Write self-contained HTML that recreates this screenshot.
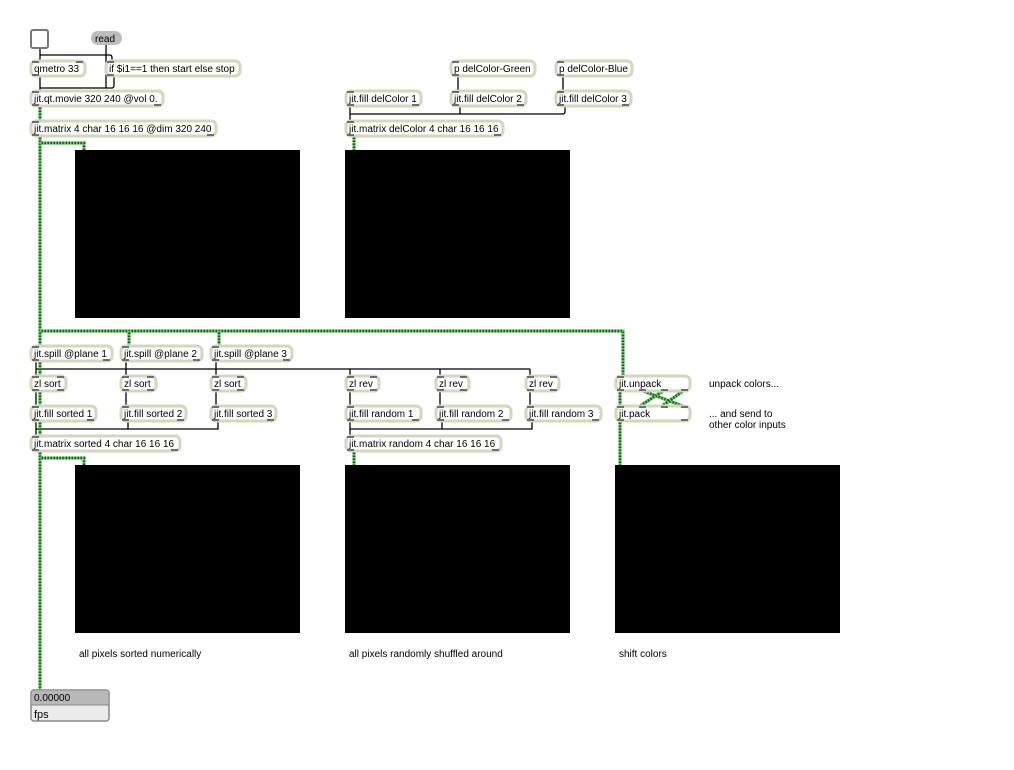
<!DOCTYPE html>
<html><head><meta charset="utf-8"><style>
html,body{margin:0;padding:0;background:#fff;}
svg{display:block;}
text{font-family:"Liberation Sans",sans-serif;font-size:10px;fill:#000;}
.b{fill:#fff;stroke:#d2d8bc;stroke-width:3;}
.io{fill:#6e6e6e;}
.c{stroke:#000;stroke-width:1.3;fill:none;}
.g{stroke:#1d5e1d;stroke-width:3;fill:none;}
.g2{stroke:#5fd05f;stroke-width:3;fill:none;stroke-dasharray:1.5 1.5;}
</style></head><body>
<svg width="1014" height="770" viewBox="0 0 1014 770">
<g class="c">
<path d="M40 48 V61"/>
<path d="M40 55 H110 Q112 55 112 58 V61"/>
<path d="M106 45 V88"/>
<path d="M40 76 V91"/>
<path d="M40 88 H112 Q114 88 114 85 V76"/>
<path d="M458 76 V91"/><path d="M563 76 V91"/>
<path d="M350 106 V121"/>
<path d="M350 114 H563 Q565 114 565 111 V106"/>
<path d="M460 106 V114"/>
<path d="M36 361 V376"/><path d="M126 361 V376"/><path d="M216 361 V376"/>
<path d="M36 369 H530"/>
<path d="M350 369 V376"/><path d="M440 369 V376"/><path d="M530 369 V376"/>
<path d="M36 391 V406"/><path d="M126 391 V406"/><path d="M216 391 V406"/>
<path d="M350 391 V406"/><path d="M440 391 V406"/><path d="M530 391 V406"/>
<path d="M36 421 V436"/><path d="M36 429 H218 V421"/><path d="M128 421 V429"/>
<path d="M350 421 V436"/><path d="M350 429 H532 V421"/><path d="M442 421 V429"/>
</g>
<g>
<path class="g" d="M40 136 V690"/><path class="g2" d="M40 136 V690"/>
<path class="g" d="M40 143 H84 V150"/><path class="g2" d="M40 143 H84 V150"/>
<path class="g" d="M40 106 V121"/><path class="g2" d="M40 106 V121"/>
<path class="g" d="M354 136 V150"/><path class="g2" d="M354 136 V150"/>
<path class="g" d="M40 331 H623 V376"/><path class="g2" d="M40 331 H623 V376"/>
<path class="g" d="M129 331 V346"/><path class="g2" d="M129 331 V346"/>
<path class="g" d="M219 331 V346"/><path class="g2" d="M219 331 V346"/>
<path class="g" d="M40 458 H84 V465"/><path class="g2" d="M40 458 H84 V465"/>
<path class="g" d="M354 451 V465"/><path class="g2" d="M354 451 V465"/>
<path class="g" d="M620 391 V406"/><path class="g2" d="M620 391 V406"/>
<path class="g" d="M620 421 V465"/><path class="g2" d="M620 421 V465"/>
<path class="g" d="M643 391 L683 406"/><path class="g2" d="M643 391 L683 406"/>
<path class="g" d="M663 391 L640 406"/><path class="g2" d="M663 391 L640 406"/>
<path class="g" d="M683 391 L662 406"/><path class="g2" d="M683 391 L662 406"/>
</g>
<rect x="31" y="30" width="17" height="18" rx="2" fill="#fff" stroke="#777" stroke-width="2"/>
<rect x="91" y="31" width="31" height="14" rx="7" fill="#bdbdbd"/>
<text x="95" y="42">read</text>
<g>
<rect class="b" x="31" y="61" width="54" height="15" rx="5"/><text x="34" y="72">qmetro 33</text>
<rect class="b" x="106" y="61" width="134" height="15" rx="5"/><text x="109" y="72">if $i1==1 then start else stop</text>
<rect class="b" x="31" y="91" width="132" height="15" rx="5"/><text x="34" y="102">jit.qt.movie 320 240 @vol 0.</text>
<rect class="b" x="31" y="121" width="185" height="15" rx="5"/><text x="34" y="132">jit.matrix 4 char 16 16 16 @dim 320 240</text>
<rect class="b" x="451" y="61" width="84" height="15" rx="5"/><text x="454" y="72">p delColor-Green</text>
<rect class="b" x="556" y="61" width="76" height="15" rx="5"/><text x="559" y="72">p delColor-Blue</text>
<rect class="b" x="346" y="91" width="75" height="15" rx="5"/><text x="349" y="102">jit.fill delColor 1</text>
<rect class="b" x="451" y="91" width="75" height="15" rx="5"/><text x="454" y="102">jit.fill delColor 2</text>
<rect class="b" x="556" y="91" width="75" height="15" rx="5"/><text x="559" y="102">jit.fill delColor 3</text>
<rect class="b" x="346" y="121" width="157" height="15" rx="5"/><text x="349" y="132">jit.matrix delColor 4 char 16 16 16</text>
<rect class="b" x="31" y="346" width="81" height="15" rx="5"/><text x="34" y="357">jit.spill @plane 1</text>
<rect class="b" x="121" y="346" width="81" height="15" rx="5"/><text x="124" y="357">jit.spill @plane 2</text>
<rect class="b" x="211" y="346" width="81" height="15" rx="5"/><text x="214" y="357">jit.spill @plane 3</text>
<rect class="b" x="31" y="376" width="35" height="15" rx="5"/><text x="34" y="387">zl sort</text>
<rect class="b" x="121" y="376" width="35" height="15" rx="5"/><text x="124" y="387">zl sort</text>
<rect class="b" x="211" y="376" width="35" height="15" rx="5"/><text x="214" y="387">zl sort</text>
<rect class="b" x="31" y="406" width="65" height="15" rx="5"/><text x="34" y="417">jit.fill sorted 1</text>
<rect class="b" x="121" y="406" width="65" height="15" rx="5"/><text x="124" y="417">jit.fill sorted 2</text>
<rect class="b" x="211" y="406" width="65" height="15" rx="5"/><text x="214" y="417">jit.fill sorted 3</text>
<rect class="b" x="31" y="436" width="149" height="15" rx="5"/><text x="34" y="447">jit.matrix sorted 4 char 16 16 16</text>
<rect class="b" x="346" y="376" width="33" height="15" rx="5"/><text x="349" y="387">zl rev</text>
<rect class="b" x="436" y="376" width="33" height="15" rx="5"/><text x="439" y="387">zl rev</text>
<rect class="b" x="526" y="376" width="33" height="15" rx="5"/><text x="529" y="387">zl rev</text>
<rect class="b" x="346" y="406" width="75" height="15" rx="5"/><text x="349" y="417">jit.fill random 1</text>
<rect class="b" x="436" y="406" width="75" height="15" rx="5"/><text x="439" y="417">jit.fill random 2</text>
<rect class="b" x="526" y="406" width="75" height="15" rx="5"/><text x="529" y="417">jit.fill random 3</text>
<rect class="b" x="346" y="436" width="155" height="15" rx="5"/><text x="349" y="447">jit.matrix random 4 char 16 16 16</text>
<rect class="b" x="616" y="376" width="74" height="15" rx="5"/><text x="619" y="387">jit.unpack</text>
<rect class="b" x="616" y="406" width="74" height="15" rx="5"/><text x="619" y="417">jit.pack</text>
</g>
<g class="io">
<rect x="32" y="61" width="7" height="2"/><rect x="76" y="61" width="7" height="2"/><rect x="32" y="74" width="7" height="2"/>
<rect x="107" y="61" width="7" height="2"/><rect x="107" y="74" width="7" height="2"/>
<rect x="32" y="91" width="7" height="2"/><rect x="32" y="104" width="7" height="2"/><rect x="154" y="104" width="7" height="2"/>
<rect x="32" y="121" width="7" height="2"/><rect x="32" y="134" width="7" height="2"/><rect x="207" y="134" width="7" height="2"/>
<rect x="452" y="61" width="7" height="2"/><rect x="452" y="74" width="7" height="2"/>
<rect x="557" y="61" width="7" height="2"/><rect x="557" y="74" width="7" height="2"/>
<rect x="347" y="91" width="7" height="2"/><rect x="347" y="104" width="7" height="2"/><rect x="412" y="104" width="7" height="2"/>
<rect x="452" y="91" width="7" height="2"/><rect x="452" y="104" width="7" height="2"/><rect x="517" y="104" width="7" height="2"/>
<rect x="557" y="91" width="7" height="2"/><rect x="557" y="104" width="7" height="2"/><rect x="622" y="104" width="7" height="2"/>
<rect x="347" y="121" width="7" height="2"/><rect x="347" y="134" width="7" height="2"/><rect x="494" y="134" width="7" height="2"/>
<rect x="32" y="346" width="7" height="2"/><rect x="32" y="359" width="7" height="2"/><rect x="103" y="359" width="7" height="2"/>
<rect x="122" y="346" width="7" height="2"/><rect x="122" y="359" width="7" height="2"/><rect x="193" y="359" width="7" height="2"/>
<rect x="212" y="346" width="7" height="2"/><rect x="212" y="359" width="7" height="2"/><rect x="283" y="359" width="7" height="2"/>
<rect x="32" y="376" width="7" height="2"/><rect x="57" y="376" width="7" height="2"/><rect x="32" y="389" width="7" height="2"/><rect x="57" y="389" width="7" height="2"/>
<rect x="122" y="376" width="7" height="2"/><rect x="147" y="376" width="7" height="2"/><rect x="122" y="389" width="7" height="2"/><rect x="147" y="389" width="7" height="2"/>
<rect x="212" y="376" width="7" height="2"/><rect x="237" y="376" width="7" height="2"/><rect x="212" y="389" width="7" height="2"/><rect x="237" y="389" width="7" height="2"/>
<rect x="32" y="406" width="7" height="2"/><rect x="32" y="419" width="7" height="2"/><rect x="87" y="419" width="7" height="2"/>
<rect x="122" y="406" width="7" height="2"/><rect x="122" y="419" width="7" height="2"/><rect x="177" y="419" width="7" height="2"/>
<rect x="212" y="406" width="7" height="2"/><rect x="212" y="419" width="7" height="2"/><rect x="267" y="419" width="7" height="2"/>
<rect x="32" y="436" width="7" height="2"/><rect x="32" y="449" width="7" height="2"/><rect x="171" y="449" width="7" height="2"/>
<rect x="347" y="376" width="7" height="2"/><rect x="370" y="376" width="7" height="2"/><rect x="347" y="389" width="7" height="2"/><rect x="370" y="389" width="7" height="2"/>
<rect x="437" y="376" width="7" height="2"/><rect x="460" y="376" width="7" height="2"/><rect x="437" y="389" width="7" height="2"/><rect x="460" y="389" width="7" height="2"/>
<rect x="527" y="376" width="7" height="2"/><rect x="550" y="376" width="7" height="2"/><rect x="527" y="389" width="7" height="2"/><rect x="550" y="389" width="7" height="2"/>
<rect x="347" y="406" width="7" height="2"/><rect x="347" y="419" width="7" height="2"/><rect x="412" y="419" width="7" height="2"/>
<rect x="437" y="406" width="7" height="2"/><rect x="437" y="419" width="7" height="2"/><rect x="502" y="419" width="7" height="2"/>
<rect x="527" y="406" width="7" height="2"/><rect x="527" y="419" width="7" height="2"/><rect x="592" y="419" width="7" height="2"/>
<rect x="347" y="436" width="7" height="2"/><rect x="347" y="449" width="7" height="2"/><rect x="492" y="449" width="7" height="2"/>
<rect x="617" y="376" width="7" height="2"/><rect x="617" y="389" width="7" height="2"/><rect x="639" y="389" width="7" height="2"/><rect x="661" y="389" width="7" height="2"/><rect x="681" y="389" width="7" height="2"/>
<rect x="617" y="406" width="7" height="2"/><rect x="639" y="406" width="7" height="2"/><rect x="661" y="406" width="7" height="2"/><rect x="681" y="406" width="7" height="2"/><rect x="617" y="419" width="7" height="2"/><rect x="681" y="419" width="7" height="2"/>
</g>
<rect x="75" y="150" width="225" height="168" fill="#000"/>
<rect x="345" y="150" width="225" height="168" fill="#000"/>
<rect x="75" y="465" width="225" height="168" fill="#000"/>
<rect x="345" y="465" width="225" height="168" fill="#000"/>
<rect x="615" y="465" width="225" height="168" fill="#000"/>
<text x="709" y="387">unpack colors...</text>
<text x="709" y="417">... and send to</text>
<text x="709" y="428">other color inputs</text>
<text x="79" y="657">all pixels sorted numerically</text>
<text x="349" y="657">all pixels randomly shuffled around</text>
<text x="619" y="657">shift colors</text>
<rect x="31" y="690" width="78" height="31" rx="3" fill="#ececec" stroke="#8a8a8a" stroke-width="1.5"/>
<rect x="32" y="691" width="76" height="14" fill="#b8b8b8"/>
<line x1="31" y1="705" x2="109" y2="705" stroke="#8a8a8a"/>
<text x="34" y="701">0.00000</text>
<text x="34" y="718" style="font-size:11px">fps</text>
</svg>
</body></html>
